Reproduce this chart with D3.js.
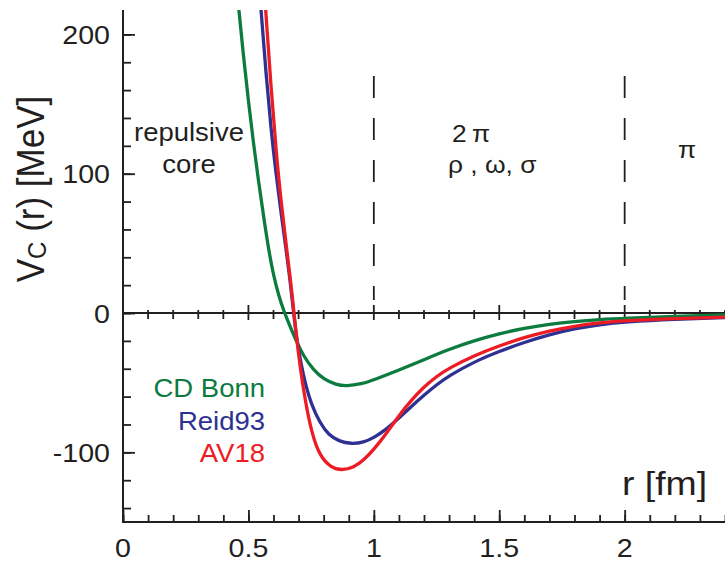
<!DOCTYPE html>
<html>
<head>
<meta charset="utf-8">
<script src="https://cdn.jsdelivr.net/npm/d3@7"></script>
<style>
	body { margin: 0; background: #fff; }
	text { font-family: "Liberation Sans", Arial, sans-serif; fill: #231f20; }
</style>
</head>
<body>
<div id="chart"></div>
<script>
var WIDTH = 725;
var HEIGHT = 564;

// CD Bonn
var cdBonnR = [0.44, 0.46, 0.48, 0.50, 0.52, 0.54, 0.56, 0.58, 0.60, 0.62, 0.64, 0.66, 0.69, 0.72, 0.76, 0.80, 0.85, 0.89, 0.95, 1.0, 1.1, 1.2, 1.3, 1.4, 1.5, 1.6, 1.7, 1.8, 1.9, 2.0, 2.2, 2.4];
var cdBonnV = [262, 220, 185, 152, 122, 95, 70, 46, 27, 13, 2, -7, -20, -31, -41, -47.5, -51.5, -52.5, -51, -48, -41, -33.5, -26, -19.8, -14.8, -10.8, -8, -6, -4.6, -3.7, -2.3, -1.3];

// Reid93
var reid93R = [0.53, 0.55, 0.57, 0.59, 0.61, 0.63, 0.65, 0.665, 0.679, 0.692, 0.71, 0.73, 0.75, 0.785, 0.82, 0.86, 0.91, 0.96, 1.0, 1.05, 1.1, 1.15, 1.2, 1.25, 1.3, 1.4, 1.5, 1.6, 1.7, 1.8, 1.9, 2.0, 2.2, 2.4];
var reid93V = [265, 218, 172, 132, 100, 72, 46, 25, 2, -18, -37, -53, -65, -79, -87.5, -92, -94, -92.8, -89.5, -83.5, -75.5, -67, -59, -51.5, -45, -35, -27.5, -21, -15.5, -11.2, -8.3, -6.4, -4.4, -3.3];

// AV18
var av18R = [0.55, 0.57, 0.59, 0.61, 0.63, 0.65, 0.67, 0.679, 0.692, 0.706, 0.726, 0.752, 0.785, 0.83, 0.872, 0.92, 0.96, 1.0, 1.05, 1.1, 1.15, 1.2, 1.25, 1.3, 1.4, 1.5, 1.6, 1.7, 1.8, 1.9, 2.0, 2.2, 2.4];
var av18V = [265, 215, 162, 117, 80, 50, 20, 5, -18, -38.5, -62.5, -86, -103, -111, -113, -111, -105.5, -98, -86.5, -73.5, -62.5, -53, -45.5, -39.5, -30.5, -23.5, -17.5, -12.8, -9.3, -7, -5.5, -3.9, -3];

var seriesNames = ['CD Bonn', 'Reid93', 'AV18'];
var seriesColors = ['#0b7b3e', '#2e3192', '#ed1c24'];

var xMajor = [0, 0.5, 1, 1.5, 2];
var xMajorLabels = ['0', '0.5', '1', '1.5', '2'];
var yMajor = [-100, 0, 100, 200];
var yMajorLabels = ['-100', '0', '100', '200'];
var regionBounds = [1, 2];

var INK = '#231f20';
var STRETCH = 1.1;

var svg = d3.select('#chart').append('svg')
	.attr('width', WIDTH)
	.attr('height', HEIGHT);

var x = d3.scaleLinear().domain([0, 2.4]).range([123, 725]);
var y = d3.scaleLinear().domain([-150, 217.5]).range([522, 10]);

function label(txt, px, py, size, anchor, color) {
	return svg.append('text')
		.attr('transform', 'translate(' + px + ',' + py + ') scale(' + STRETCH + ',1)')
		.attr('text-anchor', anchor || 'start')
		.attr('font-size', size)
		.style('fill', color || INK)
		.text(txt);
}

// dashed region boundaries
svg.selectAll('line.bound')
	.data(regionBounds)
	.enter().append('line')
	.attr('class', 'bound')
	.attr('x1', function(d) { return x(d); })
	.attr('x2', function(d) { return x(d); })
	.attr('y1', 76)
	.attr('y2', 300)
	.attr('stroke', INK)
	.attr('stroke-width', 1.8)
	.attr('stroke-dasharray', '22,20');

// zero line with ticks
var y0 = y(0);
svg.append('line')
	.attr('x1', x(0)).attr('x2', x(2.4))
	.attr('y1', y0).attr('y2', y0)
	.attr('stroke', INK).attr('stroke-width', 2);

var zeroTicks = d3.range(1, 25).map(function(i) { return i / 10; });
svg.selectAll('line.ztick')
	.data(zeroTicks)
	.enter().append('line')
	.attr('class', 'ztick')
	.attr('x1', function(d) { return x(d); })
	.attr('x2', function(d) { return x(d); })
	.attr('y1', function(d, i) { return (i + 1) % 5 == 0 ? y0 - 8 : y0 - 3; })
	.attr('y2', function(d, i) { return (i + 1) % 5 == 0 ? y0 + 7 : y0 + 6; })
	.attr('stroke', INK).attr('stroke-width', 1.8);

// curves
svg.append('clipPath').attr('id', 'clip')
	.append('rect')
	.attr('x', x(0)).attr('y', y(217.5))
	.attr('width', x(2.4) - x(0)).attr('height', y(-150) - y(217.5));

var line = d3.line()
	.x(function(d) { return x(d[0]); })
	.y(function(d) { return y(d[1]); })
	.curve(d3.curveBasis);

var curves = [
	d3.zip(cdBonnR, cdBonnV),
	d3.zip(reid93R, reid93V),
	d3.zip(av18R, av18V)
];

svg.append('g').attr('clip-path', 'url(#clip)')
	.selectAll('path')
	.data(curves)
	.enter().append('path')
	.attr('d', line)
	.attr('fill', 'none')
	.attr('stroke', function(d, i) { return seriesColors[i]; })
	.attr('stroke-width', 3.3);

// left axis
var yMinor = d3.range(-140, 201, 20);
svg.append('g')
	.attr('transform', 'translate(' + x(0) + ',0)')
	.call(d3.axisRight(y).tickValues(yMinor).tickSize(8).tickFormat(''))
	.call(function(g) { g.select('.domain').remove(); });
svg.append('g')
	.attr('transform', 'translate(' + x(0) + ',0)')
	.call(d3.axisRight(y).tickValues(yMajor).tickSize(12).tickFormat(''))
	.call(function(g) { g.select('.domain').remove(); });

// bottom axis
var xMinor = d3.range(0, 25).map(function(i) { return i / 10; });
svg.append('g')
	.attr('transform', 'translate(0,' + y(-150) + ')')
	.call(d3.axisTop(x).tickValues(xMinor).tickSize(7).tickFormat(''))
	.call(function(g) { g.select('.domain').remove(); });
svg.append('g')
	.attr('transform', 'translate(0,' + y(-150) + ')')
	.call(d3.axisTop(x).tickValues(xMajor).tickSize(12).tickFormat(''))
	.call(function(g) { g.select('.domain').remove(); });

svg.selectAll('.tick line').attr('stroke', INK).attr('stroke-width', 1.8);

svg.append('path')
	.attr('d', 'M' + x(0) + ',' + y(217.5) + 'V' + y(-150) + 'H' + x(2.4))
	.attr('fill', 'none')
	.attr('stroke', INK)
	.attr('stroke-width', 2);

// tick labels
yMajor.forEach(function(v, i) {
	label(yMajorLabels[i], 110, y(v) + 9.5, 26, 'end');
});
xMajor.forEach(function(v, i) {
	label(xMajorLabels[i], x(v), 557, 26, 'middle');
});

// axis titles
var yt = svg.append('text')
	.attr('transform', 'translate(44,189) rotate(-90) scale(1,' + STRETCH + ')')
	.attr('text-anchor', 'middle')
	.attr('font-size', 35);
yt.append('tspan').text('V');
yt.append('tspan').attr('font-size', 24).attr('dy', 2).text('C');
yt.append('tspan').attr('dy', -2).text(' (r) [MeV]');

label('r [fm]', 622, 495, 34, 'start');

// region notes
label('repulsive', 189, 141, 25, 'middle');
label('core', 189, 173, 25, 'middle');
label('2\u2009\u03c0', 452, 142, 24, 'start');
label('\u03c1 , \u03c9, \u03c3', 448, 173, 24, 'start');
label('\u03c0', 678, 158, 24, 'start');

// legend
seriesNames.forEach(function(n, i) {
	label(n, 265, 397 + i * 32.5, 25, 'end', seriesColors[i]);
});
</script>
</body>
</html>
